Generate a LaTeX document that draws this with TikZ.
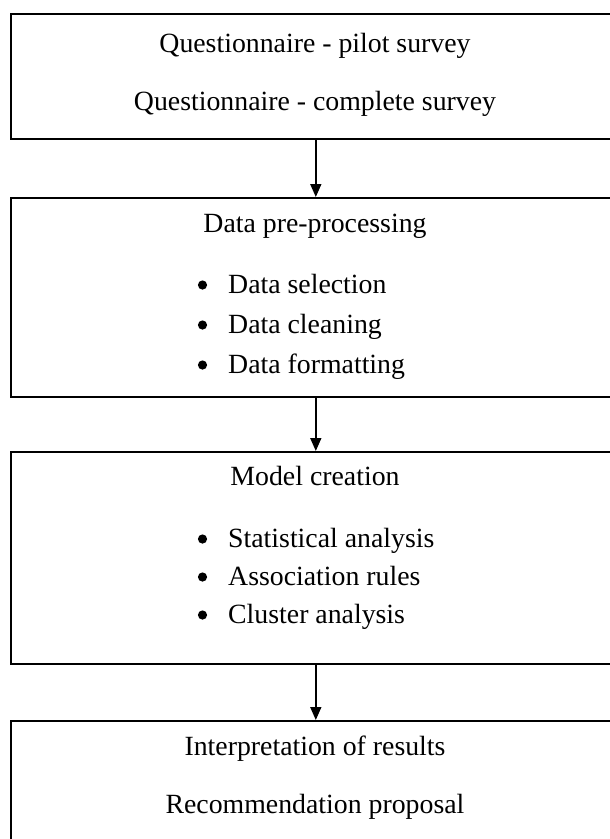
\documentclass[tikz,border=0pt]{standalone}
\usepackage{fontspec}
\setmainfont{Liberation Serif}
\usetikzlibrary{arrows.meta}

\begin{document}
\begin{tikzpicture}[x=1pt, y=-1pt,
    stagebox/.style={draw, line width=1.6pt, minimum width=610pt, anchor=north west, inner sep=0pt},
    label/.style={anchor=base, inner sep=0pt, font=\fontsize{27.8}{33}\selectfont},
    item/.style={anchor=base west, inner sep=0pt, font=\fontsize{27.8}{33}\selectfont},
    flow/.style={-{Triangle[length=13pt, width=11pt]}, line width=1.6pt}]

    % Page frame
    \def\pagew{610}
    \def\pageh{839}
    \def\xmid{315}
    \def\xbul{202.5}
    \def\xtxt{228}
    \useasboundingbox (0,0) rectangle (\pagew,\pageh);
    \clip (0,0) rectangle (\pagew,\pageh);

    % Draw boxes
    \node[stagebox, minimum height=125pt] (survey) at (10,13) {};
    \node[stagebox, minimum height=199pt] (prep) at (10,197) {};
    \node[stagebox, minimum height=212pt] (model) at (10,451) {};
    \node[stagebox, minimum height=160pt] (interp) at (10,720) {};

    % Box texts
    \node[label] (pilot) at (\xmid,52) {Questionnaire - pilot survey};
    \node[label] (complete) at (\xmid,110) {Questionnaire - complete survey};
    \node[label] (preptitle) at (\xmid,232) {Data pre-processing};
    \node[label] (modeltitle) at (\xmid,485) {Model creation};
    \node[label] (results) at (\xmid,755) {Interpretation of results};
    \node[label] (proposal) at (\xmid,813) {Recommendation proposal};

    % Bullet lists
    \foreach \txt [count=\i] in {Data selection, Data cleaning, Data formatting}{
        \fill (\xbul, 245+40*\i) circle (4.6pt);
        \node[item] (prep\i) at (\xtxt, 253+40*\i) {\txt};
    }
    \foreach \txt [count=\i] in {Statistical analysis, Association rules, Cluster analysis}{
        \fill (\xbul, 501+38*\i) circle (4.6pt);
        \node[item] (model\i) at (\xtxt, 509+38*\i) {\txt};
    }

    % Arrows
    \draw[flow] (survey.south) -- (prep.north);
    \draw[flow] (prep.south) -- (model.north);
    \draw[flow] (model.south) -- (interp.north);

\end{tikzpicture}
\end{document}
